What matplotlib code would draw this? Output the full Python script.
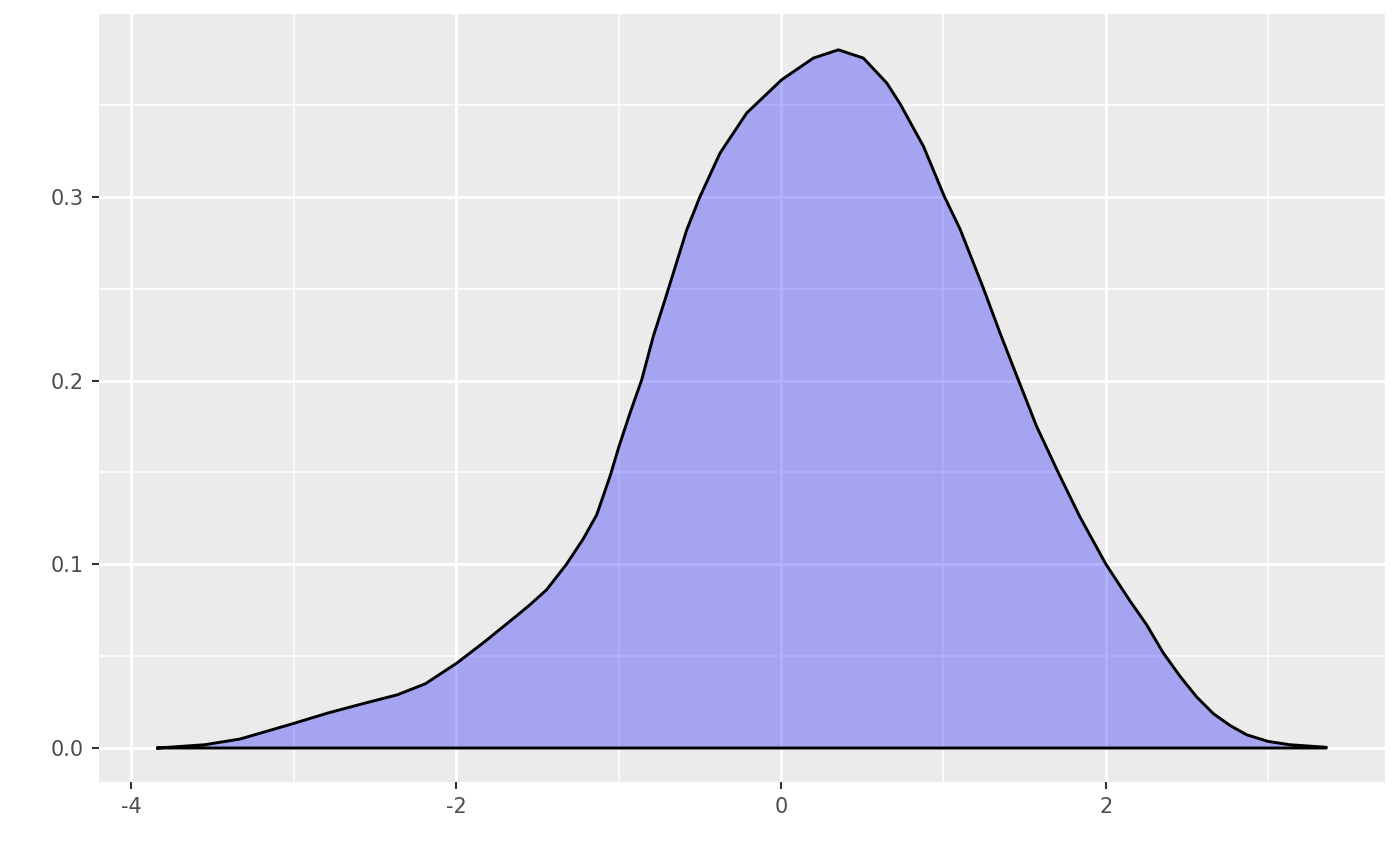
import matplotlib.pyplot as plt
from matplotlib.ticker import MultipleLocator

# density curve
x_vals = [-3.835, -3.545, -3.329, -3.006, -2.791, -2.575, -2.360, -2.188, -1.994,
          -1.822, -1.606, -1.545, -1.442, -1.319, -1.216, -1.134, -1.052, -0.997,
          -0.929, -0.857, -0.786, -0.714, -0.58, -0.498, -0.375, -0.211, 0.004,
          0.199, 0.353, 0.507, 0.651, 0.733, 0.877, 1.005, 1.102, 1.245, 1.348,
          1.46, 1.573, 1.706, 1.838, 1.998, 2.143, 2.25, 2.353, 2.456, 2.558,
          2.661, 2.763, 2.866, 2.998, 3.13, 3.356]
y_vals = [0.0, 0.0018, 0.0049, 0.0132, 0.019, 0.0241, 0.029, 0.035, 0.0463,
          0.058, 0.0735, 0.078, 0.0862, 0.1002, 0.114, 0.127, 0.148, 0.1642,
          0.1824, 0.2005, 0.2241, 0.244, 0.2821, 0.3003, 0.3239, 0.3457, 0.3638,
          0.3756, 0.3801, 0.3756, 0.362, 0.3507, 0.3275, 0.3003, 0.2825, 0.2504,
          0.2259, 0.2005, 0.1751, 0.150, 0.1261, 0.1003, 0.0807, 0.0671, 0.0517,
          0.039, 0.0278, 0.0187, 0.0123, 0.0072, 0.0036, 0.0018, 0.0004]

x_ticks = [-4, -2, 0, 2]
y_ticks = [0.0, 0.1, 0.2, 0.3]

fig = plt.figure(figsize=(14, 8.66), dpi=100)
ax = fig.add_axes([99 / 1400, 84 / 866, 1286 / 1400, 768 / 866])
ax.set_facecolor("#EBEBEB")

# closed polygon: curve plus the bottom edge
px = x_vals + [x_vals[-1], x_vals[0]]
py = y_vals + [0.0, 0.0]
ax.fill(px, py, facecolor="blue", alpha=0.3, edgecolor="none", zorder=3)
ax.plot(px, py, color="black", lw=2.1, zorder=4, solid_joinstyle="round")

ax.set_xlim(-4.197, 3.717)
ax.set_ylim(-0.0185, 0.3996)

ax.set_xticks(x_ticks)
ax.set_xticklabels([str(t) for t in x_ticks])
ax.set_yticks(y_ticks)
ax.set_yticklabels([f"{t:.1f}" for t in y_ticks])
ax.xaxis.set_minor_locator(MultipleLocator(1))
ax.yaxis.set_minor_locator(MultipleLocator(0.05))

ax.grid(which="major", color="white", lw=2.1, zorder=1)
ax.grid(which="minor", color="white", lw=1.1, zorder=1)
ax.set_axisbelow(True)

for s in ax.spines.values():
    s.set_visible(False)
ax.tick_params(which="major", length=5, width=1.5, color="#333333",
               labelcolor="#4D4D4D", labelsize=15, pad=6)
ax.tick_params(which="minor", length=0)

fig.savefig("out.png", dpi=100)
